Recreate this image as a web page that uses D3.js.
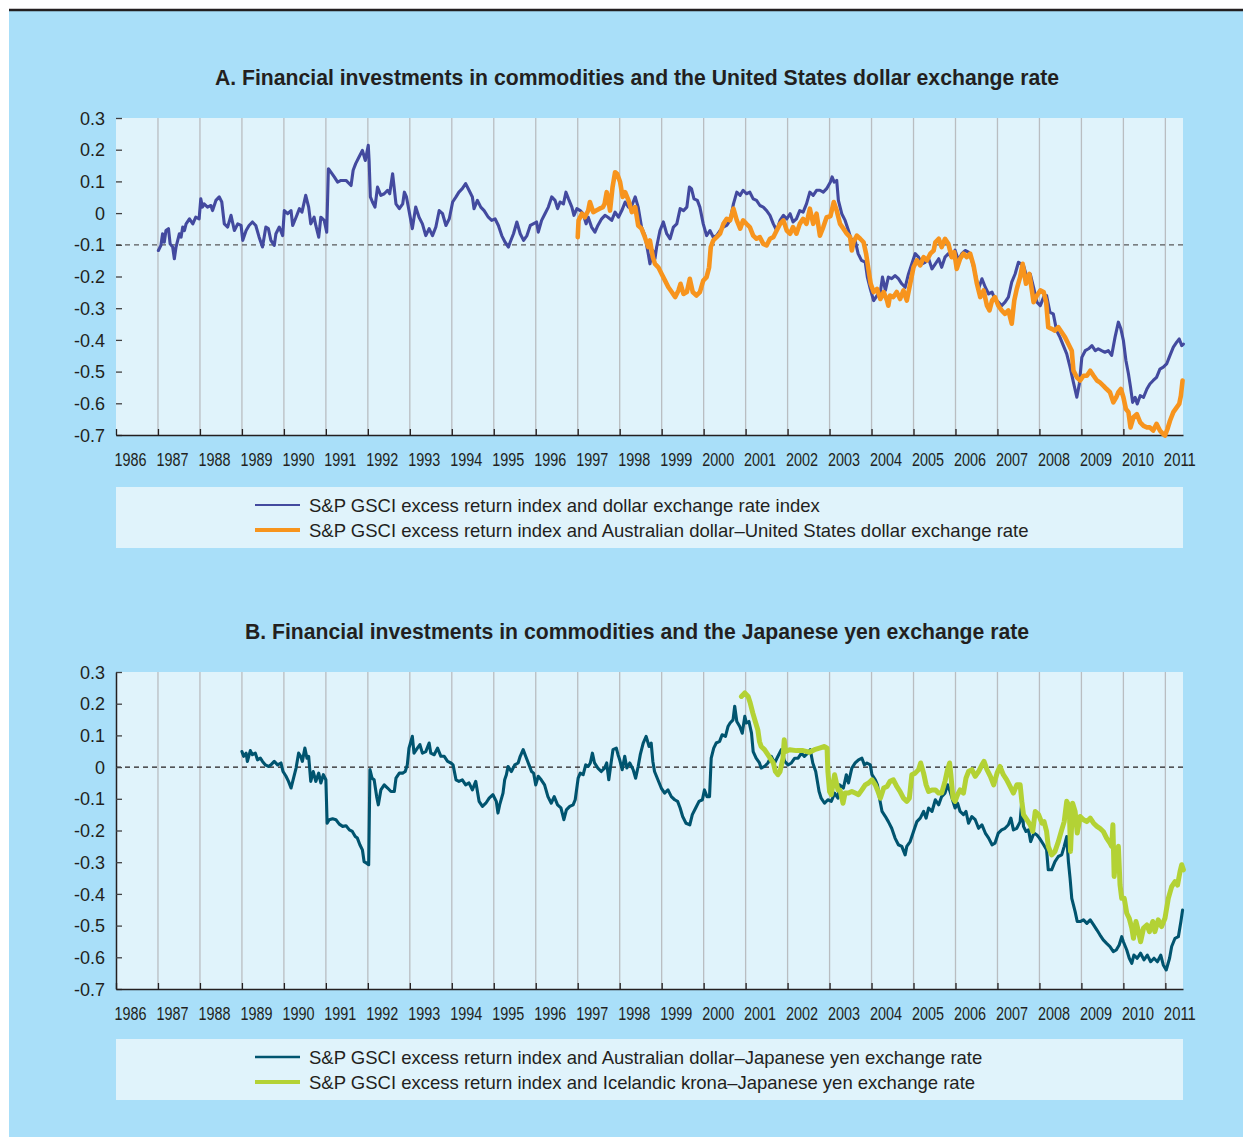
<!DOCTYPE html>
<html><head><meta charset="utf-8">
<script src="https://cdn.jsdelivr.net/npm/d3@7"></script>
<style>body{margin:0;background:#fff}svg{display:block}text{font-family:"Liberation Sans",Arial,sans-serif;fill:#231f20}</style>
</head><body><svg id="c" width="1243" height="1137"></svg>
<script>
const yearTicks = d3.range(1986, 2012);
const yTicks = [0.3,0.2,0.1,0,-0.1,-0.2,-0.3,-0.4,-0.5,-0.6,-0.7];
const titleA = "A. Financial investments in commodities and the United States dollar exchange rate";
const titleB = "B. Financial investments in commodities and the Japanese yen exchange rate";
const legendA = ["S&P GSCI excess return index and dollar exchange rate index","S&P GSCI excess return index and Australian dollar\u2013United States dollar exchange rate"];
const legendB = ["S&P GSCI excess return index and Australian dollar\u2013Japanese yen exchange rate","S&P GSCI excess return index and Icelandic krona\u2013Japanese yen exchange rate"];

const usdIndex = [[1987.01,-0.118],[1987.07,-0.102],[1987.11,-0.065],[1987.15,-0.092],[1987.19,-0.055],[1987.25,-0.049],[1987.29,-0.097],[1987.35,-0.107],[1987.39,-0.144],[1987.43,-0.107],[1987.47,-0.086],[1987.51,-0.065],[1987.55,-0.076],[1987.59,-0.044],[1987.63,-0.055],[1987.67,-0.034],[1987.75,-0.018],[1987.83,-0.034],[1987.90,-0.013],[1987.98,-0.018],[1988.02,0.045],[1988.06,0.019],[1988.10,0.029],[1988.18,0.019],[1988.26,0.024],[1988.30,0.008],[1988.38,0.040],[1988.46,0.051],[1988.52,0.035],[1988.58,-0.034],[1988.66,-0.044],[1988.74,-0.007],[1988.82,-0.055],[1988.90,-0.034],[1988.98,-0.039],[1989.02,-0.086],[1989.10,-0.055],[1989.17,-0.039],[1989.25,-0.028],[1989.33,-0.039],[1989.41,-0.076],[1989.49,-0.107],[1989.57,-0.044],[1989.63,-0.049],[1989.69,-0.086],[1989.77,-0.102],[1989.81,-0.065],[1989.89,-0.044],[1989.97,-0.071],[1990.01,0.008],[1990.09,-0.002],[1990.17,0.008],[1990.21,-0.039],[1990.29,-0.013],[1990.37,0.014],[1990.43,0.003],[1990.52,0.056],[1990.59,0.019],[1990.64,-0.034],[1990.72,-0.013],[1990.76,-0.039],[1990.83,-0.076],[1990.88,-0.013],[1990.96,-0.023],[1991.02,-0.060],[1991.06,0.140],[1991.12,0.129],[1991.20,0.114],[1991.28,0.098],[1991.36,0.103],[1991.48,0.103],[1991.60,0.087],[1991.65,0.135],[1991.71,0.156],[1991.79,0.177],[1991.87,0.198],[1991.94,0.166],[1992.01,0.214],[1992.03,0.166],[1992.06,0.051],[1992.11,0.035],[1992.17,0.019],[1992.23,0.082],[1992.31,0.056],[1992.39,0.061],[1992.47,0.072],[1992.52,0.061],[1992.59,0.124],[1992.67,0.029],[1992.75,0.014],[1992.83,0.029],[1992.87,0.066],[1992.92,0.051],[1992.98,0.008],[1993.06,-0.049],[1993.14,0.019],[1993.22,-0.013],[1993.30,-0.034],[1993.38,-0.071],[1993.46,-0.049],[1993.54,-0.071],[1993.62,-0.044],[1993.70,0.008],[1993.78,-0.002],[1993.86,-0.039],[1993.94,-0.018],[1994.02,0.035],[1994.10,0.051],[1994.17,0.066],[1994.25,0.077],[1994.33,0.093],[1994.41,0.072],[1994.49,0.051],[1994.53,0.014],[1994.61,0.040],[1994.69,0.019],[1994.77,0.008],[1994.87,-0.013],[1994.95,-0.023],[1995.03,-0.018],[1995.11,-0.039],[1995.19,-0.071],[1995.27,-0.092],[1995.35,-0.107],[1995.39,-0.092],[1995.47,-0.065],[1995.55,-0.028],[1995.63,-0.065],[1995.71,-0.086],[1995.79,-0.071],[1995.87,-0.039],[1995.94,-0.034],[1996.02,-0.028],[1996.06,-0.060],[1996.14,-0.023],[1996.22,-0.002],[1996.30,0.019],[1996.38,0.051],[1996.46,0.040],[1996.52,0.014],[1996.58,0.035],[1996.66,0.029],[1996.72,0.066],[1996.78,0.045],[1996.86,0.019],[1996.91,-0.007],[1996.98,0.014],[1997.06,0.008],[1997.13,-0.002],[1997.20,-0.034],[1997.25,-0.013],[1997.33,-0.044],[1997.41,-0.060],[1997.48,-0.039],[1997.57,-0.018],[1997.65,-0.007],[1997.72,-0.013],[1997.81,-0.023],[1997.89,0.003],[1997.97,-0.013],[1998.05,0.008],[1998.13,0.035],[1998.21,0.019],[1998.29,0.024],[1998.37,0.051],[1998.44,0.019],[1998.52,-0.044],[1998.60,-0.071],[1998.68,-0.128],[1998.72,-0.160],[1998.79,-0.118],[1998.84,-0.144],[1998.88,-0.107],[1998.96,-0.055],[1999.04,-0.028],[1999.12,-0.065],[1999.20,-0.081],[1999.28,-0.044],[1999.36,-0.034],[1999.44,0.014],[1999.52,0.008],[1999.60,0.019],[1999.66,0.082],[1999.71,0.077],[1999.77,0.045],[1999.85,0.040],[1999.91,0.019],[1999.99,-0.034],[2000.07,-0.071],[2000.15,-0.055],[2000.23,-0.076],[2000.31,-0.071],[2000.39,-0.055],[2000.47,-0.044],[2000.55,-0.039],[2000.63,-0.023],[2000.71,0.029],[2000.79,0.066],[2000.87,0.056],[2000.94,0.072],[2001.02,0.061],[2001.10,0.066],[2001.18,0.045],[2001.26,0.040],[2001.34,0.024],[2001.42,0.019],[2001.50,0.008],[2001.58,-0.007],[2001.66,-0.034],[2001.74,-0.055],[2001.82,-0.023],[2001.90,-0.007],[2001.98,-0.018],[2002.06,-0.002],[2002.13,-0.028],[2002.21,-0.018],[2002.29,0.008],[2002.37,0.003],[2002.45,0.029],[2002.53,0.066],[2002.61,0.056],[2002.69,0.072],[2002.77,0.072],[2002.85,0.066],[2002.93,0.077],[2003.02,0.098],[2003.06,0.114],[2003.11,0.098],[2003.17,0.103],[2003.21,0.040],[2003.29,-0.002],[2003.37,-0.023],[2003.45,-0.055],[2003.52,-0.086],[2003.60,-0.081],[2003.68,-0.128],[2003.76,-0.149],[2003.85,-0.155],[2003.90,-0.202],[2003.97,-0.239],[2004.05,-0.276],[2004.13,-0.260],[2004.21,-0.249],[2004.26,-0.202],[2004.33,-0.244],[2004.40,-0.202],[2004.48,-0.207],[2004.56,-0.197],[2004.64,-0.207],[2004.72,-0.223],[2004.80,-0.234],[2004.88,-0.192],[2004.96,-0.160],[2005.04,-0.128],[2005.12,-0.139],[2005.20,-0.160],[2005.28,-0.155],[2005.36,-0.144],[2005.44,-0.176],[2005.52,-0.160],[2005.60,-0.144],[2005.67,-0.171],[2005.75,-0.139],[2005.83,-0.128],[2005.91,-0.139],[2005.99,-0.117],[2006.07,-0.149],[2006.15,-0.128],[2006.23,-0.118],[2006.31,-0.123],[2006.39,-0.149],[2006.47,-0.192],[2006.55,-0.239],[2006.63,-0.207],[2006.71,-0.234],[2006.79,-0.255],[2006.87,-0.249],[2006.94,-0.271],[2007.02,-0.281],[2007.10,-0.292],[2007.18,-0.281],[2007.26,-0.265],[2007.34,-0.218],[2007.42,-0.192],[2007.50,-0.155],[2007.62,-0.165],[2007.70,-0.202],[2007.78,-0.192],[2007.86,-0.234],[2007.94,-0.281],[2008.02,-0.292],[2008.10,-0.265],[2008.17,-0.260],[2008.25,-0.313],[2008.33,-0.318],[2008.41,-0.371],[2008.49,-0.392],[2008.57,-0.418],[2008.65,-0.444],[2008.73,-0.486],[2008.81,-0.534],[2008.89,-0.581],[2008.95,-0.539],[2009.01,-0.455],[2009.09,-0.434],[2009.17,-0.428],[2009.25,-0.418],[2009.33,-0.434],[2009.40,-0.428],[2009.48,-0.434],[2009.56,-0.439],[2009.64,-0.434],[2009.72,-0.449],[2009.80,-0.392],[2009.88,-0.344],[2009.94,-0.365],[2010.00,-0.402],[2010.06,-0.465],[2010.12,-0.507],[2010.17,-0.549],[2010.22,-0.597],[2010.28,-0.581],[2010.33,-0.602],[2010.40,-0.576],[2010.48,-0.581],[2010.56,-0.555],[2010.63,-0.539],[2010.71,-0.528],[2010.79,-0.518],[2010.87,-0.492],[2010.95,-0.486],[2011.03,-0.476],[2011.11,-0.449],[2011.19,-0.423],[2011.27,-0.407],[2011.33,-0.397],[2011.39,-0.418],[2011.43,-0.413]];

const audUsd = [[1997.00,-0.076],[1997.02,-0.023],[1997.10,-0.002],[1997.17,-0.013],[1997.25,0.008],[1997.29,0.035],[1997.37,0.003],[1997.44,0.008],[1997.52,0.014],[1997.60,0.019],[1997.64,0.029],[1997.69,0.066],[1997.72,0.051],[1997.77,0.008],[1997.83,0.082],[1997.89,0.129],[1997.94,0.124],[1998.01,0.098],[1998.07,0.051],[1998.13,0.066],[1998.21,0.040],[1998.29,0.003],[1998.37,0.019],[1998.44,-0.039],[1998.52,-0.049],[1998.60,-0.076],[1998.68,-0.107],[1998.72,-0.086],[1998.79,-0.139],[1998.84,-0.160],[1998.92,-0.171],[1999.00,-0.192],[1999.08,-0.213],[1999.16,-0.234],[1999.24,-0.249],[1999.32,-0.265],[1999.40,-0.244],[1999.45,-0.223],[1999.52,-0.255],[1999.60,-0.249],[1999.67,-0.207],[1999.74,-0.249],[1999.83,-0.260],[1999.91,-0.249],[1999.99,-0.213],[2000.07,-0.202],[2000.13,-0.171],[2000.17,-0.107],[2000.23,-0.086],[2000.31,-0.076],[2000.39,-0.065],[2000.47,-0.034],[2000.55,-0.018],[2000.63,-0.023],[2000.71,0.014],[2000.79,-0.023],[2000.87,-0.049],[2000.94,-0.023],[2001.02,-0.034],[2001.10,-0.044],[2001.18,-0.071],[2001.26,-0.081],[2001.34,-0.076],[2001.42,-0.097],[2001.50,-0.102],[2001.58,-0.081],[2001.66,-0.076],[2001.74,-0.055],[2001.82,-0.034],[2001.90,-0.023],[2001.98,-0.055],[2002.06,-0.065],[2002.13,-0.044],[2002.21,-0.065],[2002.29,-0.034],[2002.37,-0.018],[2002.45,-0.034],[2002.53,0.014],[2002.61,-0.034],[2002.69,-0.002],[2002.77,-0.071],[2002.85,-0.044],[2002.93,-0.013],[2003.02,-0.010],[2003.10,0.035],[2003.17,0.008],[2003.25,-0.034],[2003.33,-0.049],[2003.41,-0.065],[2003.49,-0.076],[2003.53,-0.118],[2003.57,-0.092],[2003.65,-0.071],[2003.73,-0.081],[2003.81,-0.092],[2003.87,-0.128],[2003.93,-0.181],[2003.98,-0.223],[2004.05,-0.249],[2004.13,-0.239],[2004.21,-0.271],[2004.29,-0.249],[2004.37,-0.276],[2004.40,-0.292],[2004.44,-0.260],[2004.52,-0.265],[2004.60,-0.249],[2004.68,-0.271],[2004.76,-0.244],[2004.84,-0.276],[2004.92,-0.223],[2005.00,-0.171],[2005.08,-0.149],[2005.16,-0.165],[2005.24,-0.139],[2005.32,-0.149],[2005.40,-0.128],[2005.48,-0.118],[2005.52,-0.092],[2005.60,-0.081],[2005.67,-0.107],[2005.75,-0.081],[2005.83,-0.097],[2005.91,-0.139],[2005.97,-0.123],[2006.03,-0.176],[2006.11,-0.144],[2006.19,-0.128],[2006.27,-0.139],[2006.35,-0.128],[2006.43,-0.165],[2006.51,-0.223],[2006.59,-0.265],[2006.67,-0.244],[2006.75,-0.292],[2006.81,-0.307],[2006.87,-0.276],[2006.94,-0.265],[2007.02,-0.292],[2007.10,-0.307],[2007.18,-0.318],[2007.26,-0.307],[2007.34,-0.349],[2007.40,-0.276],[2007.46,-0.239],[2007.54,-0.202],[2007.60,-0.160],[2007.68,-0.223],[2007.76,-0.192],[2007.82,-0.244],[2007.86,-0.281],[2007.94,-0.260],[2008.02,-0.244],[2008.10,-0.249],[2008.16,-0.281],[2008.21,-0.360],[2008.29,-0.365],[2008.37,-0.371],[2008.45,-0.360],[2008.53,-0.376],[2008.61,-0.392],[2008.69,-0.413],[2008.77,-0.434],[2008.81,-0.497],[2008.89,-0.518],[2008.97,-0.528],[2009.05,-0.513],[2009.13,-0.513],[2009.21,-0.497],[2009.29,-0.513],[2009.37,-0.528],[2009.44,-0.534],[2009.52,-0.544],[2009.60,-0.555],[2009.68,-0.565],[2009.76,-0.597],[2009.83,-0.581],[2009.88,-0.565],[2009.94,-0.555],[2010.00,-0.581],[2010.06,-0.618],[2010.12,-0.628],[2010.17,-0.676],[2010.24,-0.644],[2010.32,-0.634],[2010.40,-0.660],[2010.48,-0.671],[2010.56,-0.676],[2010.63,-0.676],[2010.71,-0.686],[2010.79,-0.665],[2010.87,-0.686],[2010.95,-0.697],[2010.99,-0.702],[2011.05,-0.681],[2011.11,-0.655],[2011.19,-0.628],[2011.27,-0.613],[2011.33,-0.602],[2011.37,-0.576],[2011.41,-0.528]];

const audJpy = [[1989.00,0.049],[1989.04,0.034],[1989.10,0.044],[1989.13,0.018],[1989.20,0.052],[1989.25,0.039],[1989.32,0.044],[1989.37,0.023],[1989.44,0.028],[1989.49,0.018],[1989.56,0.007],[1989.63,0.002],[1989.69,0.007],[1989.77,0.018],[1989.85,0.007],[1989.93,0.013],[1989.98,-0.014],[1990.05,-0.029],[1990.11,-0.045],[1990.17,-0.066],[1990.21,-0.045],[1990.29,-0.003],[1990.35,0.044],[1990.40,0.034],[1990.44,0.018],[1990.50,0.060],[1990.55,0.028],[1990.59,0.034],[1990.64,-0.045],[1990.70,-0.014],[1990.76,-0.045],[1990.83,-0.019],[1990.88,-0.050],[1990.94,-0.024],[1991.00,-0.040],[1991.03,-0.177],[1991.08,-0.166],[1991.16,-0.163],[1991.24,-0.166],[1991.32,-0.180],[1991.40,-0.187],[1991.48,-0.185],[1991.56,-0.198],[1991.63,-0.203],[1991.70,-0.219],[1991.75,-0.224],[1991.81,-0.245],[1991.87,-0.261],[1991.91,-0.298],[1991.97,-0.303],[1992.02,-0.308],[1992.05,-0.008],[1992.10,-0.035],[1992.15,-0.040],[1992.21,-0.093],[1992.25,-0.119],[1992.31,-0.072],[1992.39,-0.056],[1992.47,-0.066],[1992.55,-0.077],[1992.63,-0.077],[1992.67,-0.035],[1992.75,-0.019],[1992.83,-0.019],[1992.89,-0.014],[1992.94,0.007],[1992.98,0.060],[1993.06,0.097],[1993.10,0.044],[1993.18,0.060],[1993.24,0.071],[1993.30,0.044],[1993.38,0.049],[1993.46,0.076],[1993.50,0.044],[1993.58,0.039],[1993.66,0.060],[1993.74,0.034],[1993.82,0.034],[1993.90,0.018],[1993.98,0.013],[1994.03,0.007],[1994.10,-0.040],[1994.17,-0.045],[1994.25,-0.040],[1994.33,-0.056],[1994.41,-0.050],[1994.49,-0.072],[1994.57,-0.045],[1994.65,-0.108],[1994.73,-0.124],[1994.81,-0.114],[1994.89,-0.098],[1994.98,-0.087],[1995.06,-0.108],[1995.10,-0.145],[1995.14,-0.119],[1995.22,-0.082],[1995.26,-0.040],[1995.30,-0.024],[1995.34,0.002],[1995.42,-0.014],[1995.50,0.007],[1995.58,0.013],[1995.63,0.034],[1995.70,0.055],[1995.76,0.034],[1995.84,0.007],[1995.90,-0.014],[1995.95,-0.019],[1996.00,-0.056],[1996.06,-0.029],[1996.13,-0.040],[1996.21,-0.056],[1996.29,-0.093],[1996.37,-0.114],[1996.44,-0.093],[1996.52,-0.119],[1996.60,-0.129],[1996.67,-0.166],[1996.73,-0.135],[1996.81,-0.124],[1996.89,-0.119],[1996.94,-0.103],[1997.01,-0.035],[1997.06,-0.019],[1997.13,-0.024],[1997.19,0.007],[1997.25,0.002],[1997.30,0.013],[1997.35,0.044],[1997.40,0.013],[1997.48,-0.003],[1997.56,-0.014],[1997.64,-0.003],[1997.69,0.013],[1997.74,-0.040],[1997.80,0.018],[1997.84,0.055],[1997.92,0.060],[1997.96,0.039],[1998.00,0.023],[1998.06,-0.008],[1998.12,0.034],[1998.17,-0.003],[1998.24,0.013],[1998.32,-0.008],[1998.38,-0.035],[1998.44,0.002],[1998.49,0.039],[1998.56,0.076],[1998.63,0.097],[1998.70,0.065],[1998.75,0.076],[1998.79,0.018],[1998.83,-0.014],[1998.91,-0.040],[1998.99,-0.066],[1999.07,-0.082],[1999.15,-0.072],[1999.23,-0.093],[1999.31,-0.103],[1999.38,-0.108],[1999.44,-0.129],[1999.50,-0.156],[1999.58,-0.177],[1999.67,-0.182],[1999.73,-0.150],[1999.81,-0.129],[1999.89,-0.108],[1999.97,-0.103],[2000.02,-0.072],[2000.08,-0.093],[2000.14,-0.093],[2000.18,0.028],[2000.24,0.060],[2000.30,0.076],[2000.38,0.081],[2000.44,0.102],[2000.52,0.097],[2000.58,0.128],[2000.63,0.139],[2000.70,0.149],[2000.74,0.192],[2000.79,0.144],[2000.86,0.128],[2000.92,0.107],[2000.98,0.160],[2001.02,0.139],[2001.08,0.144],[2001.14,0.107],[2001.18,0.049],[2001.25,0.028],[2001.33,0.013],[2001.37,-0.003],[2001.45,0.002],[2001.53,0.013],[2001.61,0.034],[2001.69,0.013],[2001.77,0.034],[2001.85,0.055],[2001.93,0.018],[2002.01,0.007],[2002.09,0.013],[2002.17,0.028],[2002.25,0.028],[2002.33,0.044],[2002.40,0.034],[2002.48,0.044],[2002.54,0.055],[2002.60,0.013],[2002.67,-0.014],[2002.75,-0.077],[2002.80,-0.098],[2002.88,-0.114],[2002.96,-0.103],[2003.04,-0.108],[2003.12,-0.082],[2003.20,-0.098],[2003.24,-0.056],[2003.33,-0.066],[2003.40,-0.024],[2003.45,-0.050],[2003.53,-0.003],[2003.61,0.013],[2003.69,0.023],[2003.77,0.028],[2003.83,0.007],[2003.89,0.013],[2003.97,0.007],[2004.01,-0.024],[2004.09,-0.040],[2004.14,-0.056],[2004.19,-0.098],[2004.25,-0.140],[2004.33,-0.156],[2004.40,-0.172],[2004.48,-0.193],[2004.56,-0.224],[2004.64,-0.245],[2004.72,-0.250],[2004.80,-0.277],[2004.84,-0.250],[2004.92,-0.235],[2005.00,-0.203],[2005.08,-0.172],[2005.16,-0.161],[2005.24,-0.140],[2005.30,-0.161],[2005.36,-0.129],[2005.44,-0.140],[2005.52,-0.103],[2005.60,-0.119],[2005.67,-0.093],[2005.75,-0.082],[2005.81,-0.056],[2005.87,-0.077],[2005.94,-0.108],[2005.99,-0.129],[2006.05,-0.114],[2006.11,-0.140],[2006.19,-0.150],[2006.25,-0.140],[2006.31,-0.177],[2006.39,-0.156],[2006.47,-0.166],[2006.55,-0.193],[2006.63,-0.182],[2006.71,-0.208],[2006.79,-0.224],[2006.87,-0.245],[2006.94,-0.240],[2007.02,-0.208],[2007.10,-0.198],[2007.18,-0.193],[2007.26,-0.182],[2007.32,-0.161],[2007.38,-0.198],[2007.46,-0.193],[2007.54,-0.172],[2007.58,-0.108],[2007.62,-0.187],[2007.68,-0.203],[2007.74,-0.198],[2007.79,-0.235],[2007.87,-0.208],[2007.94,-0.214],[2008.00,-0.224],[2008.10,-0.245],[2008.17,-0.261],[2008.21,-0.324],[2008.29,-0.324],[2008.37,-0.298],[2008.45,-0.282],[2008.53,-0.277],[2008.59,-0.250],[2008.65,-0.219],[2008.69,-0.298],[2008.73,-0.351],[2008.77,-0.414],[2008.85,-0.456],[2008.90,-0.487],[2008.98,-0.487],[2009.05,-0.482],[2009.13,-0.493],[2009.21,-0.482],[2009.29,-0.498],[2009.37,-0.514],[2009.44,-0.529],[2009.52,-0.545],[2009.60,-0.556],[2009.68,-0.566],[2009.76,-0.582],[2009.83,-0.577],[2009.90,-0.561],[2009.96,-0.535],[2010.00,-0.551],[2010.08,-0.577],[2010.14,-0.603],[2010.20,-0.619],[2010.25,-0.593],[2010.33,-0.603],[2010.41,-0.587],[2010.49,-0.608],[2010.57,-0.593],[2010.65,-0.614],[2010.73,-0.603],[2010.81,-0.614],[2010.89,-0.593],[2010.95,-0.624],[2011.02,-0.640],[2011.10,-0.603],[2011.15,-0.566],[2011.23,-0.540],[2011.31,-0.535],[2011.37,-0.487],[2011.41,-0.451]];

const iskJpy = [[2000.90,0.223],[2000.98,0.234],[2001.06,0.223],[2001.11,0.202],[2001.17,0.171],[2001.23,0.144],[2001.29,0.118],[2001.33,0.081],[2001.37,0.065],[2001.45,0.055],[2001.53,0.039],[2001.61,0.023],[2001.66,0.013],[2001.71,-0.014],[2001.77,-0.024],[2001.82,-0.014],[2001.89,0.028],[2001.92,0.086],[2001.95,0.049],[2002.05,0.055],[2002.21,0.052],[2002.37,0.052],[2002.52,0.047],[2002.64,0.055],[2002.76,0.060],[2002.88,0.065],[2002.94,0.060],[2002.96,-0.014],[2003.00,-0.077],[2003.04,-0.087],[2003.12,-0.024],[2003.20,-0.072],[2003.25,-0.072],[2003.32,-0.114],[2003.37,-0.082],[2003.45,-0.082],[2003.53,-0.077],[2003.61,-0.082],[2003.69,-0.087],[2003.77,-0.072],[2003.85,-0.056],[2003.93,-0.050],[2004.01,-0.040],[2004.09,-0.056],[2004.14,-0.072],[2004.21,-0.098],[2004.29,-0.066],[2004.37,-0.061],[2004.44,-0.045],[2004.52,-0.040],[2004.60,-0.061],[2004.68,-0.077],[2004.76,-0.098],[2004.84,-0.108],[2004.90,-0.098],[2004.96,-0.024],[2005.04,-0.019],[2005.12,-0.008],[2005.17,0.013],[2005.24,-0.019],[2005.30,-0.056],[2005.36,-0.077],[2005.44,-0.072],[2005.52,-0.072],[2005.60,-0.082],[2005.67,-0.082],[2005.75,-0.045],[2005.81,-0.008],[2005.86,0.013],[2005.89,-0.024],[2005.94,-0.098],[2005.99,-0.108],[2006.05,-0.087],[2006.11,-0.072],[2006.19,-0.082],[2006.25,-0.035],[2006.31,-0.014],[2006.39,-0.008],[2006.47,-0.029],[2006.55,-0.014],[2006.63,0.007],[2006.68,0.018],[2006.75,-0.008],[2006.83,-0.029],[2006.91,-0.056],[2006.99,-0.019],[2007.06,0.002],[2007.14,-0.024],[2007.22,-0.040],[2007.30,-0.061],[2007.38,-0.082],[2007.46,-0.056],[2007.54,-0.056],[2007.58,-0.108],[2007.62,-0.150],[2007.70,-0.166],[2007.78,-0.182],[2007.84,-0.203],[2007.90,-0.140],[2007.98,-0.150],[2008.06,-0.177],[2008.11,-0.172],[2008.17,-0.203],[2008.21,-0.250],[2008.29,-0.277],[2008.37,-0.266],[2008.45,-0.235],[2008.53,-0.198],[2008.59,-0.172],[2008.65,-0.108],[2008.71,-0.124],[2008.74,-0.266],[2008.79,-0.114],[2008.85,-0.140],[2008.90,-0.208],[2008.97,-0.156],[2009.05,-0.166],[2009.13,-0.172],[2009.21,-0.161],[2009.29,-0.177],[2009.37,-0.187],[2009.44,-0.193],[2009.52,-0.203],[2009.60,-0.224],[2009.68,-0.240],[2009.72,-0.250],[2009.75,-0.182],[2009.78,-0.345],[2009.83,-0.266],[2009.88,-0.250],[2009.92,-0.372],[2009.96,-0.414],[2010.02,-0.414],[2010.08,-0.461],[2010.14,-0.477],[2010.20,-0.508],[2010.24,-0.540],[2010.30,-0.487],[2010.36,-0.519],[2010.41,-0.551],[2010.48,-0.508],[2010.56,-0.498],[2010.62,-0.519],[2010.70,-0.487],[2010.75,-0.519],[2010.83,-0.482],[2010.91,-0.503],[2010.99,-0.477],[2011.07,-0.414],[2011.15,-0.377],[2011.23,-0.361],[2011.29,-0.372],[2011.35,-0.329],[2011.39,-0.308],[2011.43,-0.324]];

const panels = [
  {title: titleA, top: 118, bottom: 435, titleY: 85, legendTop: 487, refValue: -0.1, refColor: "#58595b", yAxisLine: false,
   series: [{data: usdIndex, color: "#434a9f", width: 3.1, legendWidth: 2.2}, {data: audUsd, color: "#f7941d", width: 4.6, legendWidth: 4.2}],
   legend: legendA},
  {title: titleB, top: 672, bottom: 989, titleY: 639, legendTop: 1039, refValue: 0, refColor: "#231f20", yAxisLine: true,
   series: [{data: audJpy, color: "#00546f", width: 3.1, legendWidth: 2.4}, {data: iskJpy, color: "#b3d235", width: 5, legendWidth: 4.2}],
   legend: legendB}
];

const svg = d3.select("#c");
svg.append("rect").attr("x", 9).attr("y", 11).attr("width", 1234).attr("height", 1126).attr("fill", "#a9dff9");
svg.append("line").attr("x1", 9).attr("x2", 1243).attr("y1", 10).attr("y2", 10).attr("stroke", "#231f20").attr("stroke-width", 2.5);

const left = 116, right = 1183;
const x = d3.scaleLinear().domain([1986, 2011.42]).range([left, right]);

panels.forEach(p => {
  const y = d3.scaleLinear().domain([-0.7, 0.3]).range([p.bottom, p.top]);
  const g = svg.append("g");
  g.append("text").attr("x", 637).attr("y", p.titleY).attr("text-anchor", "middle")
    .attr("font-size", 21.2).attr("font-weight", "bold").text(p.title);
  g.append("rect").attr("x", left).attr("y", p.top).attr("width", right - left).attr("height", p.bottom - p.top).attr("fill", "#e0f3fb");
  g.selectAll("line.grid").data(yearTicks.filter(d => d > 1986)).join("line").attr("class", "grid")
    .attr("x1", d => x(d)).attr("x2", d => x(d)).attr("y1", p.top).attr("y2", p.bottom)
    .attr("stroke", "#b9bdc1").attr("stroke-width", 1.3);
  g.append("line").attr("x1", left).attr("x2", right).attr("y1", y(p.refValue)).attr("y2", y(p.refValue))
    .attr("stroke", p.refColor).attr("stroke-width", 1.3).attr("stroke-dasharray", "5,4");

  const ya = g.append("g").attr("transform", `translate(${left},0)`)
    .call(d3.axisLeft(y).tickValues(yTicks).tickSize(-6).tickSizeOuter(0).tickPadding(11)
      .tickFormat(d => d === 0 ? "0" : d.toFixed(1)));
  ya.select(".domain").attr("stroke", "#231f20").attr("stroke-width", 1.5).attr("display", p.yAxisLine ? null : "none");
  ya.selectAll(".tick line").attr("stroke", "#404041").attr("stroke-width", 1.3);
  ya.selectAll(".tick text").attr("font-size", 18).attr("font-family", "Liberation Sans, Arial, sans-serif").attr("fill", "#231f20").attr("dy", "0.34em");

  const xa = g.append("g").attr("transform", `translate(0,${p.bottom})`)
    .call(d3.axisBottom(x).tickValues(yearTicks).tickSize(-6).tickSizeOuter(0).tickFormat(d => String(d)));
  xa.select(".domain").attr("stroke", "#231f20").attr("stroke-width", 1.6);
  xa.selectAll(".tick line").attr("stroke", "#231f20").attr("stroke-width", 1.3);
  xa.selectAll(".tick text").attr("font-size", 18).attr("font-family", "Liberation Sans, Arial, sans-serif").attr("fill", "#231f20")
    .attr("text-anchor", "start").attr("x", -2).attr("y", 31).attr("dy", 0)
    .attr("textLength", 32).attr("lengthAdjust", "spacingAndGlyphs");

  const line = d3.line().x(d => x(d[0])).y(d => y(d[1]));
  p.series.forEach(s => {
    g.append("path").datum(s.data).attr("d", line).attr("fill", "none")
      .attr("stroke", s.color).attr("stroke-width", s.width).attr("stroke-linejoin", "round").attr("stroke-linecap", "round");
  });

  const lg = g.append("g");
  lg.append("rect").attr("x", left).attr("y", p.legendTop).attr("width", right - left).attr("height", 61).attr("fill", "#e0f3fb");
  p.legend.forEach((label, i) => {
    const cy = p.legendTop + 18 + i * 25;
    lg.append("line").attr("x1", 255).attr("x2", 300).attr("y1", cy).attr("y2", cy)
      .attr("stroke", p.series[i].color).attr("stroke-width", p.series[i].legendWidth);
    lg.append("text").attr("x", 309).attr("y", cy + 6.5).attr("font-size", 18.5).text(label);
  });
});
</script>
</body></html>
